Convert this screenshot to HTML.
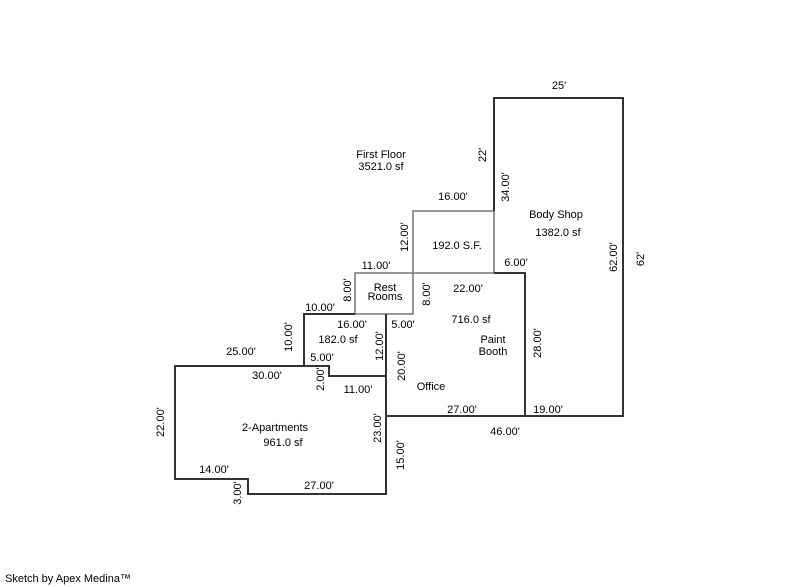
<!DOCTYPE html>
<html><head><style>
html,body{margin:0;padding:0;background:#fff;}
svg{display:block;}
text{font-family:"Liberation Sans",Arial,sans-serif;font-size:11px;fill:#000;}
.b{fill:none;stroke:#333;stroke-width:2;}
.g{fill:none;stroke:#777;stroke-width:1.5;}
</style></head><body>
<svg width="800" height="587" viewBox="0 0 800 587" xmlns="http://www.w3.org/2000/svg">
<path class="g" d="M494 211 V273 M413 273 V211 H494 M355 314 V273 H494 M355 314 H386 M413 273 V314 H386"/>
<path class="b" d="M494 211 V98 H623 V416 H386 V314 M494 273 H525 V416"/>
<path class="b" d="M304 366 V314 H355"/>
<path class="b" d="M175 366 H329 V376 H386 V494 H248 V479 H175 Z"/>
<g text-anchor="middle">
<text x="559" y="89" font-size="12">25'</text>
<text x="381" y="158" font-size="12">First Floor</text>
<text x="381" y="170" font-size="12">3521.0 sf</text>
<text x="453" y="200">16.00'</text>
<text x="556" y="218" font-size="12">Body Shop</text>
<text x="558" y="236" font-size="12">1382.0 sf</text>
<text x="457" y="249">192.0 S.F.</text>
<text x="516" y="266">6.00'</text>
<text x="376" y="269">11.00'</text>
<text x="385" y="291" font-size="12">Rest</text>
<text x="385" y="300" font-size="12">Rooms</text>
<text x="468" y="292">22.00'</text>
<text x="320" y="311">10.00'</text>
<text x="352" y="328">16.00'</text>
<text x="403" y="328">5.00'</text>
<text x="471" y="323" font-size="12">716.0 sf</text>
<text x="338" y="343" font-size="12">182.0 sf</text>
<text x="493" y="343" font-size="12">Paint</text>
<text x="493" y="355" font-size="12">Booth</text>
<text x="241" y="355">25.00'</text>
<text x="322" y="361">5.00'</text>
<text x="267" y="379">30.00'</text>
<text x="358" y="393">11.00'</text>
<text x="431" y="390" font-size="12">Office</text>
<text x="462" y="413">27.00'</text>
<text x="548" y="413">19.00'</text>
<text x="505" y="435">46.00'</text>
<text x="275" y="431" font-size="12">2-Apartments</text>
<text x="283" y="446" font-size="12">961.0 sf</text>
<text x="214" y="473">14.00'</text>
<text x="319" y="489">27.00'</text>
</g>
<g text-anchor="middle">
<text transform="translate(486,155) rotate(-90)" font-size="12">22'</text>
<text transform="translate(509,187) rotate(-90)">34.00'</text>
<text transform="translate(408,237) rotate(-90)">12.00'</text>
<text transform="translate(351,290) rotate(-90)">8.00'</text>
<text transform="translate(430,294) rotate(-90)">8.00'</text>
<text transform="translate(617,257) rotate(-90)">62.00'</text>
<text transform="translate(644,259) rotate(-90)" font-size="12">62'</text>
<text transform="translate(292,337) rotate(-90)">10.00'</text>
<text transform="translate(383,346) rotate(-90)">12.00'</text>
<text transform="translate(405,366) rotate(-90)">20.00'</text>
<text transform="translate(541,343) rotate(-90)">28.00'</text>
<text transform="translate(324,379) rotate(-90)">2.00'</text>
<text transform="translate(164,422) rotate(-90)">22.00'</text>
<text transform="translate(381,428) rotate(-90)">23.00'</text>
<text transform="translate(404,455) rotate(-90)">15.00'</text>
<text transform="translate(241,493) rotate(-90)">3.00'</text>
</g>
<text x="5" y="582" font-size="9">Sketch by Apex Medina™</text>
</svg>
</body></html>
